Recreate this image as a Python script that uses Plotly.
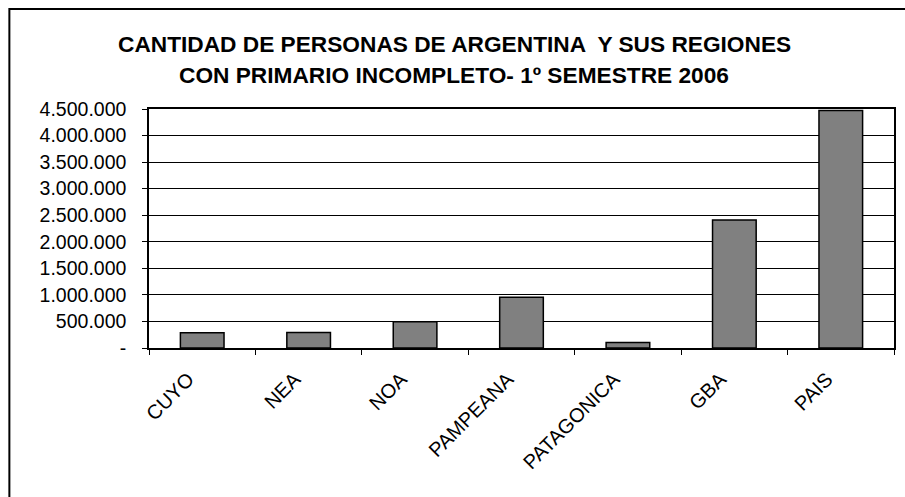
import plotly.graph_objects as go

categories = ["CUYO", "NEA", "NOA", "PAMPEANA", "PATAGONICA", "GBA", "PAIS"]
values = [285000, 290000, 495000, 957000, 102000, 2410000, 4470000]
tick_vals = [0, 500000, 1000000, 1500000, 2000000, 2500000, 3000000, 3500000, 4000000, 4500000]
tick_text = ["-", "500.000", "1.000.000", "1.500.000", "2.000.000", "2.500.000",
             "3.000.000", "3.500.000", "4.000.000", "4.500.000"]
title_lines = ["CANTIDAD DE PERSONAS DE ARGENTINA  Y SUS REGIONES",
               "CON PRIMARIO INCOMPLETO- 1º SEMESTRE 2006"]

W, H = 905, 497
L, R, T, B = 149, 9, 109, 149
pw, ph = W - L - R, H - T - B

fig = go.Figure(go.Bar(
    x=categories, y=values,
    marker=dict(color="#808080", line=dict(color="black", width=1.5)),
    width=0.41,
))

font = "Liberation Sans, Arial, sans-serif"

fig.update_layout(
    width=W, height=H,
    margin=dict(l=L, r=R, t=T, b=B),
    paper_bgcolor="white", plot_bgcolor="white",
    showlegend=False,
    font=dict(family=font, color="black", size=18),
)
fig.update_xaxes(
    showline=True, linecolor="black", linewidth=1.5, mirror=True,
    ticks="outside", ticklen=5, tickcolor="black", tickson="boundaries",
    tickangle=-45, tickfont=dict(size=20, family=font),
    ticklabelstandoff=10, ticklabelshift=-14,
    showgrid=False,
)
fig.update_yaxes(
    range=[0, 4500000],
    tickvals=tick_vals, ticktext=tick_text,
    showline=True, linecolor="black", linewidth=1.5, mirror=True,
    ticks="outside", ticklen=5, tickcolor="black",
    ticklabelstandoff=12,
    showgrid=True, gridcolor="black", gridwidth=1,
    tickfont=dict(size=19.5, family=font),
    zeroline=False,
)

# title lines
for i, line in enumerate(title_lines):
    y_px = 44 + i * 31
    fig.add_annotation(
        text="<b>%s</b>" % line, xref="paper", yref="paper",
        x=(455 - L) / pw, y=(H - B - y_px) / ph,
        xanchor="center", yanchor="middle", showarrow=False,
        font=dict(size=22.7, family=font, color="black"),
    )

# outer border of chart area
fig.add_shape(type="rect", xref="paper", yref="paper",
              x0=(9 - L) / pw, x1=(915 - L) / pw,
              y0=(H - B - 510) / ph, y1=(H - B - 9) / ph,
              line=dict(color="black", width=2), fillcolor="rgba(0,0,0,0)", layer="above")

fig.write_html("out.html", config={"displayModeBar": False},
               post_script="document.body.style.margin='0';document.body.style.overflow='hidden';")
